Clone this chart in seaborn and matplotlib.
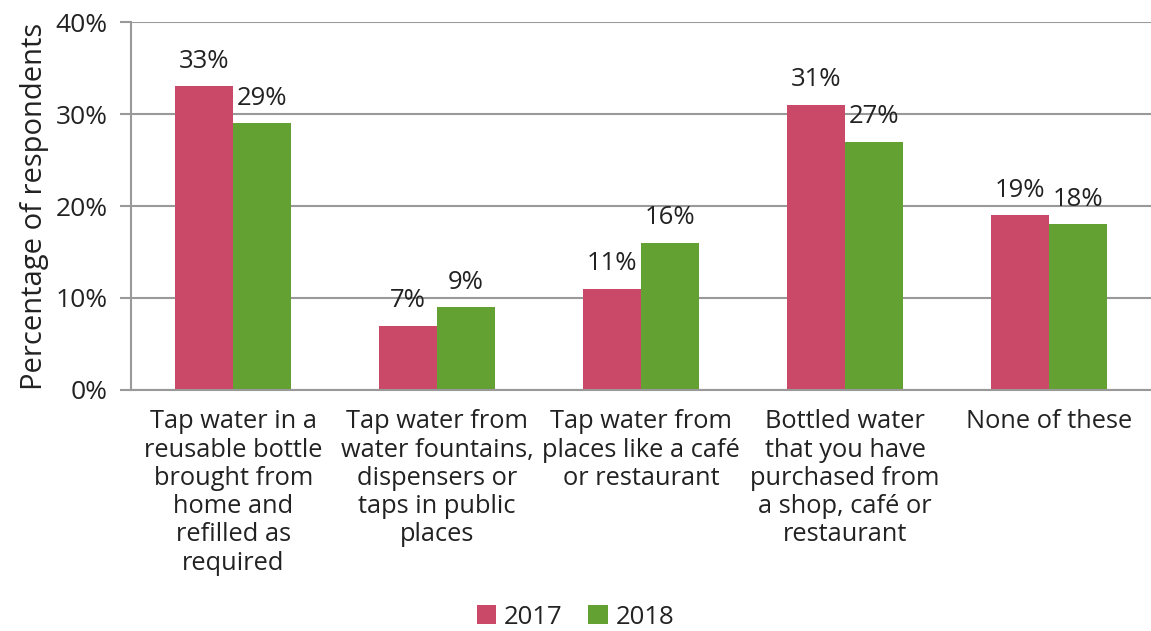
import matplotlib
matplotlib.use("Agg")
import matplotlib.pyplot as plt
import seaborn as sns
import pandas as pd
import numpy as np

categories = [
    "Tap water in a\nreusable bottle\nbrought from\nhome and\nrefilled as\nrequired",
    "Tap water from\nwater fountains,\ndispensers or\ntaps in public\nplaces",
    "Tap water from\nplaces like a café\nor restaurant",
    "Bottled water\nthat you have\npurchased from\na shop, café or\nrestaurant",
    "None of these",
]
years = ["2017", "2018"]
values_2017 = [33, 7, 11, 31, 19]
values_2018 = [29, 9, 16, 27, 18]

colors = {"2017": "#CB4968", "2018": "#62A132"}

df = pd.DataFrame({
    "category": categories * 2,
    "year": [years[0]] * len(categories) + [years[1]] * len(categories),
    "value": values_2017 + values_2018,
})

sns.set_theme(style="white")
plt.rcParams["font.family"] = ["Open Sans", "DejaVu Sans"]
text_color = "#222222"

fig = plt.figure(figsize=(11.51, 6.31), dpi=100)
ax = fig.add_axes([0.114, 0.382, 0.886, 0.583])

sns.barplot(data=df, x="category", y="value", hue="year", order=categories,
            hue_order=years, palette=colors, width=0.566, saturation=1,
            linewidth=0, ax=ax, legend=True)

for container in ax.containers:
    ax.bar_label(container, fmt="%d%%", padding=9, fontsize=18.5, color=text_color)

ax.set_ylim(0, 40)
ax.set_xlim(-0.5, len(categories) - 0.5)
ax.set_yticks(np.arange(0, 41, 10))
ax.set_yticklabels([f"{v}%" for v in range(0, 41, 10)], fontsize=19, color=text_color)
ax.yaxis.grid(True, color="#999999", linewidth=1.5)
ax.set_axisbelow(True)

ax.set_xticks(range(len(categories)))
ax.set_xticklabels(categories, fontsize=18.3, color=text_color, linespacing=1.17)
ax.tick_params(axis="x", length=0, pad=14)
ax.set_xticks(np.arange(-0.5, len(categories), 1.0), minor=True)
ax.tick_params(axis="x", which="minor", length=8, width=1.5, color="#999999")
ax.tick_params(axis="y", length=8, width=1.5, color="#999999", left=True, pad=9)

ax.set_xlabel("")
ax.set_ylabel("Percentage of respondents", fontsize=21, color=text_color, labelpad=5)

for side in ["top", "right"]:
    ax.spines[side].set_visible(False)
for side in ["left", "bottom"]:
    ax.spines[side].set_color("#999999")
    ax.spines[side].set_linewidth(1.5)

handles, labels = ax.get_legend_handles_labels()
ax.legend_.remove()
fig.legend(handles, labels, loc="lower center", bbox_to_anchor=(0.5, 0.002), ncol=2,
           frameon=False, fontsize=18.5, handlelength=0.75, handleheight=0.75,
           handletextpad=0.3, columnspacing=1.0, labelcolor=text_color,
           borderpad=0, borderaxespad=0)

fig.savefig("out.png", dpi=100)
